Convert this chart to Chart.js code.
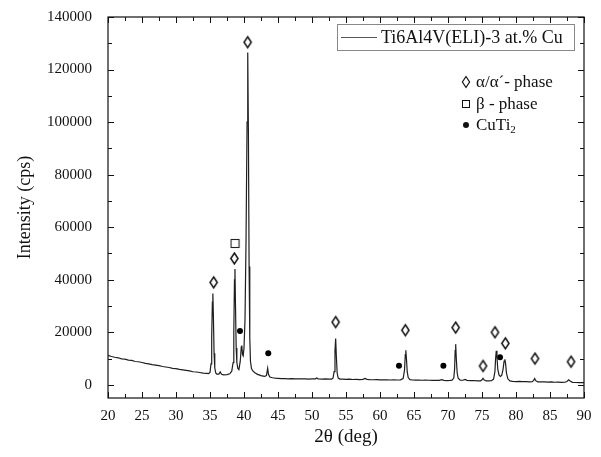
<!DOCTYPE html>
<html>
<head>
<meta charset="utf-8">
<script src="https://cdn.jsdelivr.net/npm/chart.js@4"></script>
<style>
  body { margin: 0; background: #fff; }
  canvas { display: block; }
</style>
</head>
<body>
<canvas id="xrd_chart" width="601" height="457"></canvas>
<script>
// measured pattern, 2theta (deg) vs intensity (cps)
const twoTheta = [
  20.0, 20.5, 21.0, 21.5, 22.0, 22.5, 23.0, 23.5, 24.0, 24.5, 25.0, 25.5, 26.0, 26.5, 27.0, 27.5,
  28.0, 28.5, 29.0, 29.5, 30.0, 30.5, 31.0, 31.5, 32.0, 32.5, 33.0, 33.5, 34.0, 34.5, 34.8,
  35.0, 35.15, 35.25, 35.35, 35.42, 35.5, 35.6, 35.7, 35.85, 36.0, 36.3, 36.5, 36.7, 37.0, 37.5,
  37.9, 38.2, 38.4, 38.5, 38.6, 38.67, 38.75, 38.85, 38.95, 39.1, 39.25, 39.45, 39.6, 39.68, 39.78,
  39.88, 40.0, 40.15, 40.3, 40.45, 40.55, 40.65, 40.75, 40.85, 40.95, 41.1, 41.3, 41.6, 42.0, 42.5,
  43.0, 43.3, 43.48, 43.6, 43.8, 44.2, 44.6, 45.0, 45.5, 46.0, 46.5, 47.0, 47.5, 48.0, 48.5, 49.0,
  49.5, 50.0, 50.5, 50.7, 50.9, 51.5, 52.0, 52.5, 52.9, 53.1, 53.25, 53.38, 53.48, 53.58, 53.7,
  53.85, 54.1, 54.5, 55.0, 55.5, 56.0, 56.5, 57.0, 57.5, 57.8, 58.1, 58.5, 59.0, 59.5, 60.0, 60.5,
  61.0, 61.5, 62.0, 62.5, 63.0, 63.4, 63.6, 63.72, 63.8, 63.9, 64.0, 64.15, 64.4, 64.8, 65.2, 65.7,
  66.2, 66.7, 67.2, 67.7, 68.2, 68.7, 69.1, 69.4, 69.8, 70.3, 70.6, 70.85, 70.97, 71.05, 71.13,
  71.22, 71.35, 71.5, 71.8, 72.2, 72.5, 72.8, 73.3, 73.8, 74.3, 74.8, 75.0, 75.15, 75.3, 75.6, 76.0,
  76.4, 76.7, 76.9, 77.0, 77.1, 77.2, 77.32, 77.5, 77.7, 77.9, 78.1, 78.25, 78.37, 78.47, 78.6, 78.8,
  79.1, 79.5, 80.0, 80.5, 81.0, 81.5, 82.0, 82.4, 82.6, 82.75, 82.9, 83.2, 83.7, 84.2, 84.7, 85.2,
  85.7, 86.2, 86.7, 87.2, 87.5, 87.75, 87.95, 88.3, 88.8, 89.3, 90.0
];
const intensity = [
  11200, 10800, 10500, 10300, 9900, 9800, 9400, 9300, 8900, 8800, 8500, 8200, 8000, 7700, 7500, 7300,
  7000, 6800, 6600, 6300, 6200, 5900, 5700, 5500, 5300, 5000, 4900, 4700, 4500, 4400, 4300,
  4700, 8000, 18000, 31500, 34800, 26000, 12000, 6500, 4500, 4100, 4100, 4900, 4000, 3800, 3900,
  4200, 5200, 8500, 20000, 40000, 44100, 30000, 14000, 8500, 6200, 5800, 9000, 14500, 15000, 11500,
  11000, 14000, 25000, 55000, 100000, 126500, 95000, 45000, 18000, 9000, 6200, 5300, 4600, 4000, 3500,
  3200, 3500, 6300, 4000, 3000, 2700, 2550, 2450, 2350, 2400, 2300, 2350, 2250, 2300, 2250, 2300,
  2200, 2250, 2300, 2650, 2300, 2200, 2250, 2150, 2200, 2600, 5000, 13000, 17650, 11000, 4500,
  2600, 2200, 2150, 2100, 2150, 2050, 2100, 2000, 2100, 2450, 2100, 2000, 1950, 2000, 1900, 1950,
  1900, 1850, 1900, 1850, 1900, 2400, 5500, 11500, 13200, 9500, 5000, 2800, 2000, 1850, 1800, 1850,
  1750, 1800, 1750, 1700, 1750, 1700, 1950, 1700, 1650, 1700, 1800, 2600, 6000, 13000, 15500,
  10000, 4500, 2500, 1800, 1750, 2100, 1700, 1600, 1650, 1550, 1550, 1900, 2500, 1900, 1500, 1500,
  1600, 2200, 5000, 10000, 13000, 10500, 6000, 3800, 3200, 3600, 6000, 9000, 9700, 8000, 4500, 2300,
  1500, 1300, 1250, 1300, 1200, 1250, 1150, 1200, 1700, 2400, 1600, 1150, 1100, 1150, 1050, 1100,
  1000, 1050, 950, 1000, 1300, 1900, 1500, 950, 900, 880, 850
];

// phase markers
const alphaX = [35.54, 38.58, 40.54, 53.48, 63.73, 71.13, 75.15, 76.91, 78.43, 82.79, 88.09];
const alphaY = [39000, 48100, 130400, 23900, 20800, 21800, 7200, 20000, 15800, 10000, 8800];
const betaX = [38.68];
const betaY = [53800];
const cuTi2X = [39.41, 43.57, 62.79, 69.32, 77.65];
const cuTi2Y = [20500, 12000, 7300, 7300, 10500];

const xMajor = [20, 25, 30, 35, 40, 45, 50, 55, 60, 65, 70, 75, 80, 85, 90];
const yMajor = [0, 20000, 40000, 60000, 80000, 100000, 120000, 140000];

const seriesLabel = 'Ti6Al4V(ELI)-3 at.% Cu';
const serif = '"Liberation Serif", "Times New Roman", serif';

function pairs(xs, ys) {
    return xs.map((x, i) => ({x: x, y: ys[i]}));
}

function drawDiamond(ctx, cx, cy) {
    ctx.beginPath();
    ctx.moveTo(cx, cy - 5.5);
    ctx.lineTo(cx + 3.6, cy);
    ctx.lineTo(cx, cy + 5.5);
    ctx.lineTo(cx - 3.6, cy);
    ctx.closePath();
    ctx.stroke();
}

function makeDiamond() {
    const c = document.createElement('canvas');
    c.width = 11;
    c.height = 15;
    const g = c.getContext('2d');
    g.strokeStyle = '#111';
    g.lineWidth = 1.5;
    drawDiamond(g, 5.5, 7.5);
    return c;
}

function makeSquare() {
    const c = document.createElement('canvas');
    c.width = 11;
    c.height = 11;
    const g = c.getContext('2d');
    g.strokeStyle = '#222';
    g.lineWidth = 1.1;
    g.strokeRect(1.5, 1.5, 8, 8);
    return c;
}

const diamondImg = makeDiamond();
const squareImg = makeSquare();

const framePlugin = {
    id: 'frame',
    afterDraw(chart) {
        const ctx = chart.ctx;
        const a = chart.chartArea;
        const xs = chart.scales.x;
        const ys = chart.scales.y;
        ctx.save();
        ctx.strokeStyle = '#111';
        ctx.lineWidth = 1.2;
        ctx.strokeRect(a.left, a.top, a.right - a.left, a.bottom - a.top);

        // inward ticks on all four sides
        ctx.lineWidth = 1;
        ctx.beginPath();
        for (let v = 20; v <= 90; v += 2.5) {
            const px = Math.round(xs.getPixelForValue(v)) + 0.5;
            const len = v % 5 === 0 ? 6 : 4;
            ctx.moveTo(px, a.bottom); ctx.lineTo(px, a.bottom - len);
            ctx.moveTo(px, a.top); ctx.lineTo(px, a.top + len);
        }
        for (let v = 0; v <= 140000; v += 10000) {
            const py = Math.round(ys.getPixelForValue(v)) + 0.5;
            const len = v % 20000 === 0 ? 6 : 4;
            ctx.moveTo(a.left, py); ctx.lineTo(a.left + len, py);
            ctx.moveTo(a.right, py); ctx.lineTo(a.right - len, py);
        }
        ctx.stroke();

        // series legend box
        ctx.strokeStyle = '#888';
        ctx.strokeRect(337.5, 24.5, 237, 26);
        ctx.strokeStyle = '#555';
        ctx.beginPath();
        ctx.moveTo(341, 37.5); ctx.lineTo(377, 37.5);
        ctx.stroke();
        ctx.fillStyle = '#111';
        ctx.font = '18px ' + serif;
        ctx.textBaseline = 'middle';
        ctx.fillText(seriesLabel, 381, 38);

        // phase key
        ctx.font = '17px ' + serif;
        ctx.strokeStyle = '#111';
        ctx.lineWidth = 1.2;
        drawDiamond(ctx, 466, 82);
        ctx.fillText('\u03b1/\u03b1\u00b4- phase', 476, 83);
        ctx.lineWidth = 1;
        ctx.strokeRect(462.5, 100.5, 7, 7);
        ctx.fillText('\u03b2 - phase', 476, 105);
        ctx.beginPath();
        ctx.arc(466, 125, 3, 0, Math.PI * 2);
        ctx.fill();
        ctx.fillText('CuTi', 476, 126);
        const w = ctx.measureText('CuTi').width;
        ctx.font = '11px ' + serif;
        ctx.fillText('2', 476 + w, 130);
        ctx.restore();
    }
};

const ctx = document.getElementById('xrd_chart').getContext('2d');
new Chart(ctx, {
    type: 'scatter',
    data: {
        datasets: [
            {
                label: seriesLabel,
                data: pairs(twoTheta, intensity),
                showLine: true,
                borderColor: '#1e1e1e',
                borderWidth: 1.2,
                pointRadius: 0,
                tension: 0
            },
            {
                label: 'alpha',
                data: pairs(alphaX, alphaY),
                pointStyle: diamondImg
            },
            {
                label: 'beta',
                data: pairs(betaX, betaY),
                pointStyle: squareImg
            },
            {
                label: 'CuTi2',
                data: pairs(cuTi2X, cuTi2Y),
                pointStyle: 'circle',
                pointRadius: 3,
                backgroundColor: '#000',
                borderColor: '#000',
                borderWidth: 0
            }
        ]
    },
    options: {
        responsive: false,
        animation: false,
        layout: { padding: { left: 0, right: 17, top: 15, bottom: 0 } },
        plugins: {
            legend: { display: false },
            tooltip: { enabled: false }
        },
        scales: {
            x: {
                type: 'linear',
                min: 20,
                max: 90,
                grid: { display: false },
                border: { display: false },
                afterBuildTicks: scale => { scale.ticks = xMajor.map(v => ({value: v})); },
                afterFit: scale => { scale.height = 59; },
                ticks: {
                    autoSkip: false,
                    maxRotation: 0,
                    padding: 1,
                    color: '#111',
                    font: { family: serif, size: 15 },
                    callback: v => String(v)
                },
                title: {
                    display: true,
                    text: '2\u03b8 (deg)',
                    color: '#111',
                    padding: { bottom: 9 },
                    font: { family: serif, size: 19 }
                }
            },
            y: {
                type: 'linear',
                min: -5000,
                max: 140000,
                grid: { display: false },
                border: { display: false },
                afterBuildTicks: scale => { scale.ticks = yMajor.map(v => ({value: v})); },
                afterFit: scale => { scale.width = 108; },
                ticks: {
                    padding: 8,
                    color: '#111',
                    font: { family: serif, size: 15 },
                    callback: v => String(v)
                },
                title: {
                    display: true,
                    text: 'Intensity (cps)',
                    color: '#111',
                    padding: { top: 14 },
                    font: { family: serif, size: 18 }
                }
            }
        }
    },
    plugins: [framePlugin]
});
</script>
</body>
</html>
